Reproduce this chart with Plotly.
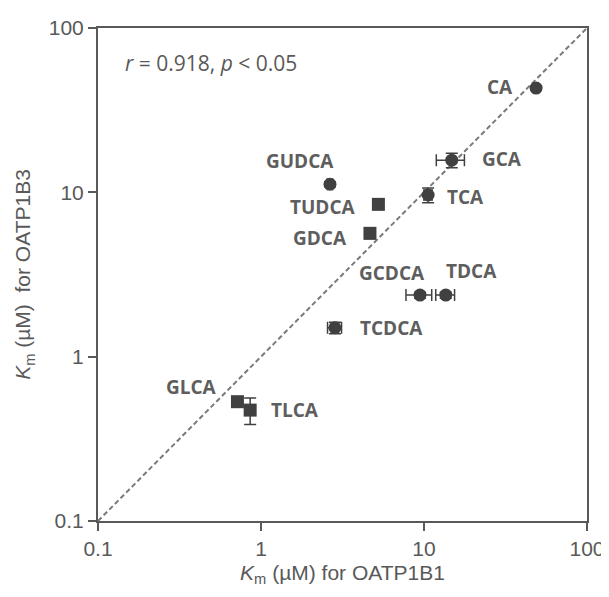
import math
import plotly.graph_objects as go

# Data (Km in µM)
names = ["CA", "GCA", "TCA", "GUDCA", "TUDCA", "GDCA", "GCDCA", "TDCA", "TCDCA", "GLCA", "TLCA"]
km_1b1 = [48.7, 14.8, 10.6, 2.65, 5.25, 4.66, 9.45, 13.6, 2.84, 0.717, 0.858]
km_1b3 = [43.1, 15.7, 9.63, 11.2, 8.45, 5.63, 2.37, 2.37, 1.50, 0.532, 0.473]
err_1b1 = [1.5, 2.9, 0.6, 0.1, 0.15, 0.2, 1.7, 1.8, 0.28, 0.02, 0.03]
err_1b3 = [1.5, 1.6, 1.0, 0.4, 0.4, 0.4, 0.1, 0.1, 0.12, 0.03, 0.087]
symbols = ["circle", "circle", "circle", "circle", "square", "square", "circle", "circle", "circle", "square", "square"]

# label placement (anchor, xshift, yshift in px)
lab_anchor = ["right", "left", "left", "center", "right", "right", "center", "center", "left", "center", "left"]
lab_dx = [-21, 28, 17, -30, -20, -21, -28, 26, 23, -46, 19]
lab_dy = [1, 1, -2, 23, -3, -5, 22, 24, 0, 15, 0]

diag = [0.1, 100]

mk = "#404040"
axc = "#595959"

fig = go.Figure()
fig.add_trace(go.Scatter(x=diag, y=diag, mode="lines",
                         line=dict(color="#7a7a7a", width=2, dash="5px,3px"),
                         hoverinfo="skip", showlegend=False))
fig.add_trace(go.Scatter(
    x=km_1b1, y=km_1b3, mode="markers",
    marker=dict(symbol=symbols, size=13, color=mk),
    error_x=dict(type="data", array=err_1b1, color=mk, thickness=1.5, width=6),
    error_y=dict(type="data", array=err_1b3, color=mk, thickness=1.5, width=6),
    showlegend=False))

for n, x, y, a, dx, dy in zip(names, km_1b1, km_1b3, lab_anchor, lab_dx, lab_dy):
    fig.add_annotation(x=math.log10(x), y=math.log10(y), xref="x", yref="y", text=n,
                       showarrow=False, xanchor=a, yanchor="middle",
                       xshift=dx, yshift=dy,
                       font=dict(family="Open Sans", size=19, color="#5e5e5e", weight="bold"))

fig.add_annotation(xref="paper", yref="paper", x=0.051, y=0.93, xanchor="left", yanchor="middle",
                   text="<i>r</i> = 0.918, <i>p</i> < 0.05", showarrow=False,
                   font=dict(family="Open Sans", size=21, color="#595959"))

axis_common = dict(type="log", showgrid=False, zeroline=False, showline=True,
                   linecolor=axc, linewidth=2, mirror=True, ticks="outside",
                   ticklen=8, tickwidth=2, tickcolor=axc, automargin=False,
                   tickvals=[0.1, 1, 10, 100], ticktext=["0.1", "1", "10", "100"],
                   tickfont=dict(family="Liberation Sans", size=21, color="#595959"),
                   range=[-1, 2])

fig.update_layout(
    width=601, height=589,
    margin=dict(l=90, r=22, t=20, b=76),
    paper_bgcolor="white", plot_bgcolor="white",
    xaxis=dict(**axis_common,
               title=dict(text="<i>K</i><sub>m</sub> (µM) for OATP1B1", standoff=6,
                          font=dict(family="Liberation Sans", size=21, color="#595959"))),
    yaxis=dict(**axis_common,
               title=dict(text="<i>K</i><sub>m</sub> (µM)  for OATP1B3", standoff=12,
                          font=dict(family="Liberation Sans", size=21, color="#595959"))),
)

fig.write_html("out.html")
